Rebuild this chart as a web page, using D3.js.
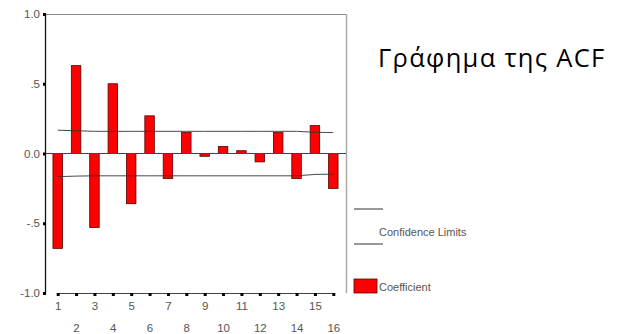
<!DOCTYPE html>
<html>
<head>
<meta charset="utf-8">
<script src="https://cdn.jsdelivr.net/npm/d3@7"></script>
<style>
  html, body { margin: 0; padding: 0; background: #fff; }
  svg { display: block; }
</style>
</head>
<body>
<svg id="chart" width="619" height="334"></svg>
<script>
// Autocorrelation coefficients by lag
const lags = [1, 2, 3, 4, 5, 6, 7, 8, 9, 10, 11, 12, 13, 14, 15, 16];
const acf = [-0.68, 0.63, -0.53, 0.50, -0.36, 0.27, -0.18, 0.15, -0.02, 0.05, 0.02, -0.06, 0.15, -0.18, 0.20, -0.25];
// Upper / lower confidence limits per lag
const upperLimit = [0.167, 0.163, 0.159, 0.159, 0.159, 0.159, 0.159, 0.159, 0.159, 0.159, 0.159, 0.159, 0.159, 0.159, 0.152, 0.150];
const lowerLimit = [-0.166, -0.162, -0.160, -0.160, -0.160, -0.160, -0.160, -0.160, -0.160, -0.160, -0.160, -0.160, -0.160, -0.160, -0.150, -0.148];
const yTicks = [1.0, 0.5, 0.0, -0.5, -1.0];
const yTickLabels = ["1.0", ".5", "0.0", "-.5", "-1.0"];
const titleText = "Γράφημα της ACF";
const legendLimits = "Confidence Limits";
const legendCoef = "Coefficient";

const svg = d3.select("#chart");
const frame = { left: 45, right: 346, top: 14, bottom: 293 };

const x = d3.scalePoint().domain(lags).range([57.7, 333.3]);
const y = d3.scaleLinear().domain([-1, 1]).range([frame.bottom, frame.top]);
const barW = 9.5;
const axisFont = "Liberation Sans, Arial, sans-serif";
const textGrey = "#555";

// Plot frame
svg.append("line").attr("x1", frame.left).attr("x2", frame.right)
  .attr("y1", frame.top + 0.5).attr("y2", frame.top + 0.5)
  .attr("stroke", "#888").attr("stroke-width", 1);
svg.append("line").attr("x1", frame.right + 0.5).attr("x2", frame.right + 0.5)
  .attr("y1", frame.top).attr("y2", frame.bottom)
  .attr("stroke", "#aaa").attr("stroke-width", 1.5);

// Bars
svg.append("g").selectAll("rect").data(lags).join("rect")
  .attr("x", (d) => x(d) - barW / 2)
  .attr("y", (d, i) => Math.min(y(acf[i]), y(0)))
  .attr("width", barW)
  .attr("height", (d, i) => Math.abs(y(acf[i]) - y(0)))
  .attr("fill", "#ff0000")
  .attr("stroke", "#5a0000")
  .attr("stroke-width", 0.8);

// Zero reference line
svg.append("line").attr("x1", frame.left).attr("x2", frame.right)
  .attr("y1", y(0)).attr("y2", y(0))
  .attr("stroke", "#444").attr("stroke-width", 1);

// Confidence limit lines
const limLine = d3.line().x((d) => x(d[0])).y((d) => y(d[1]));
[upperLimit, lowerLimit].forEach((lim) => {
  svg.append("path")
    .attr("d", limLine(lags.map((l, i) => [l, lim[i]])))
    .attr("fill", "none").attr("stroke", "#333").attr("stroke-width", 0.9);
});

// Y axis
const yAxis = svg.append("g").attr("transform", `translate(${frame.left},0)`)
  .call(d3.axisLeft(y).tickValues(yTicks).tickSize(0).tickPadding(6)
    .tickFormat((d, i) => yTickLabels[i]));
yAxis.select(".domain").attr("stroke", "#111").attr("stroke-width", 1.3);
yAxis.selectAll("text").attr("font-family", axisFont).attr("font-size", 11.5)
  .attr("fill", textGrey).attr("dx", 1);
yAxis.selectAll(".tick").append("rect")
  .attr("x", -2).attr("y", -1.5).attr("width", 3).attr("height", 3).attr("fill", "#000");

// X axis
const xAxis = svg.append("g").attr("transform", `translate(0,${frame.bottom})`)
  .call(d3.axisBottom(x).tickSize(0).tickPadding(0));
xAxis.select(".domain").attr("stroke", "#444").attr("stroke-width", 1);
xAxis.selectAll(".tick").append("rect")
  .attr("x", -1.5).attr("y", 0).attr("width", 3).attr("height", 3).attr("fill", "#000");
xAxis.selectAll("text")
  .attr("font-family", axisFont).attr("font-size", 11.5).attr("fill", textGrey)
  .attr("dy", null)
  .attr("y", (d) => (d % 2 === 1 ? 17 : 39));

// Title
svg.append("text").attr("x", 378).attr("y", 67)
  .attr("font-family", "Open Sans, sans-serif").attr("font-size", 25.5)
  .attr("letter-spacing", 1.3)
  .attr("fill", "#000").text(titleText);

// Legend
const lg = svg.append("g").attr("font-family", axisFont).attr("font-size", 11).attr("fill", textGrey);
[209, 244].forEach((ly) => {
  lg.append("line").attr("x1", 354).attr("x2", 383).attr("y1", ly).attr("y2", ly)
    .attr("stroke", "#333").attr("stroke-width", 1);
});
lg.append("text").attr("x", 379).attr("y", 235.5).text(legendLimits);
lg.append("rect").attr("x", 354).attr("y", 279).attr("width", 23).attr("height", 14)
  .attr("fill", "#ff0000").attr("stroke", "#5a0000").attr("stroke-width", 0.8);
lg.append("text").attr("x", 379).attr("y", 291).text(legendCoef);
</script>
</body>
</html>
